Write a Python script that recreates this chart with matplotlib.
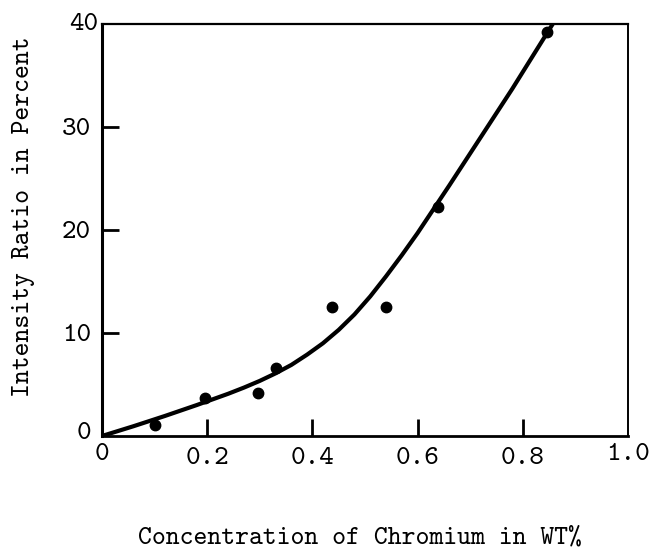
import matplotlib
matplotlib.use('Agg')
import matplotlib.pyplot as plt

# Measured points
conc = [0.10, 0.195, 0.297, 0.331, 0.437, 0.540, 0.639, 0.846]
ratio = [1.1, 3.7, 4.2, 6.6, 12.5, 12.5, 22.2, 39.2]

# Hand-drawn curve
curve_x = [0.0, 0.06, 0.12, 0.18, 0.24, 0.27, 0.30, 0.33, 0.36, 0.39, 0.42,
           0.45, 0.48, 0.51, 0.54, 0.57, 0.60, 0.66, 0.72, 0.78, 0.857]
curve_y = [0.0, 0.95, 1.95, 3.0, 4.1, 4.7, 5.35, 6.08, 6.9, 7.9, 9.0,
           10.3, 11.8, 13.55, 15.5, 17.55, 19.7, 24.3, 29.0, 33.7, 40.0]

xticks = [0.2, 0.4, 0.6, 0.8]
xtick_labels = ['0.2', '0.4', '0.6', '0.8']
yticks = [10, 20, 30]
ytick_labels = ['10', '20', '30']

# typewriter-looking font shipped with matplotlib
font = ['cmtt10', 'DejaVu Sans Mono']
plt.rcParams['font.family'] = font

fig = plt.figure(figsize=(6.61, 5.53), dpi=100)
ax = fig.add_axes([0.1543, 0.2116, 0.7957, 0.745])

ax.plot(curve_x, curve_y, color='black', lw=3, solid_capstyle='round',
        solid_joinstyle='round')
ax.plot(conc, ratio, 'o', color='black', markersize=7.5)

ax.set_xlim(0, 1.0)
ax.set_ylim(0, 40)

ax.set_xticks(xticks)
ax.set_xticklabels(xtick_labels, fontsize=20)
ax.set_yticks(yticks)
ax.set_yticklabels(ytick_labels, fontsize=20)
ax.tick_params(direction='in', length=12, width=2, pad=8)

# labels at the ends of the axes
ax.text(0.0, -0.045, '0', transform=ax.transAxes, fontsize=20, ha='center', va='center')
ax.text(1.0, -0.045, '1.0', transform=ax.transAxes, fontsize=20, ha='center', va='center')
ax.text(-0.035, 0.005, '0', transform=ax.transAxes, fontsize=20, ha='center', va='center')
ax.text(-0.035, 1.0, '40', transform=ax.transAxes, fontsize=20, ha='center', va='center')

ax.spines['left'].set_linewidth(2.2)
ax.spines['bottom'].set_linewidth(2.0)
ax.spines['top'].set_linewidth(1.6)
ax.spines['right'].set_linewidth(1.4)

fig.text(0.545, 0.027, 'Concentration of Chromium in WT%', fontsize=19,
         ha='center', va='center')
fig.text(0.035, 0.609, 'Intensity Ratio in Percent', fontsize=19,
         ha='center', va='center', rotation=90)

fig.savefig('out.png', dpi=100)
